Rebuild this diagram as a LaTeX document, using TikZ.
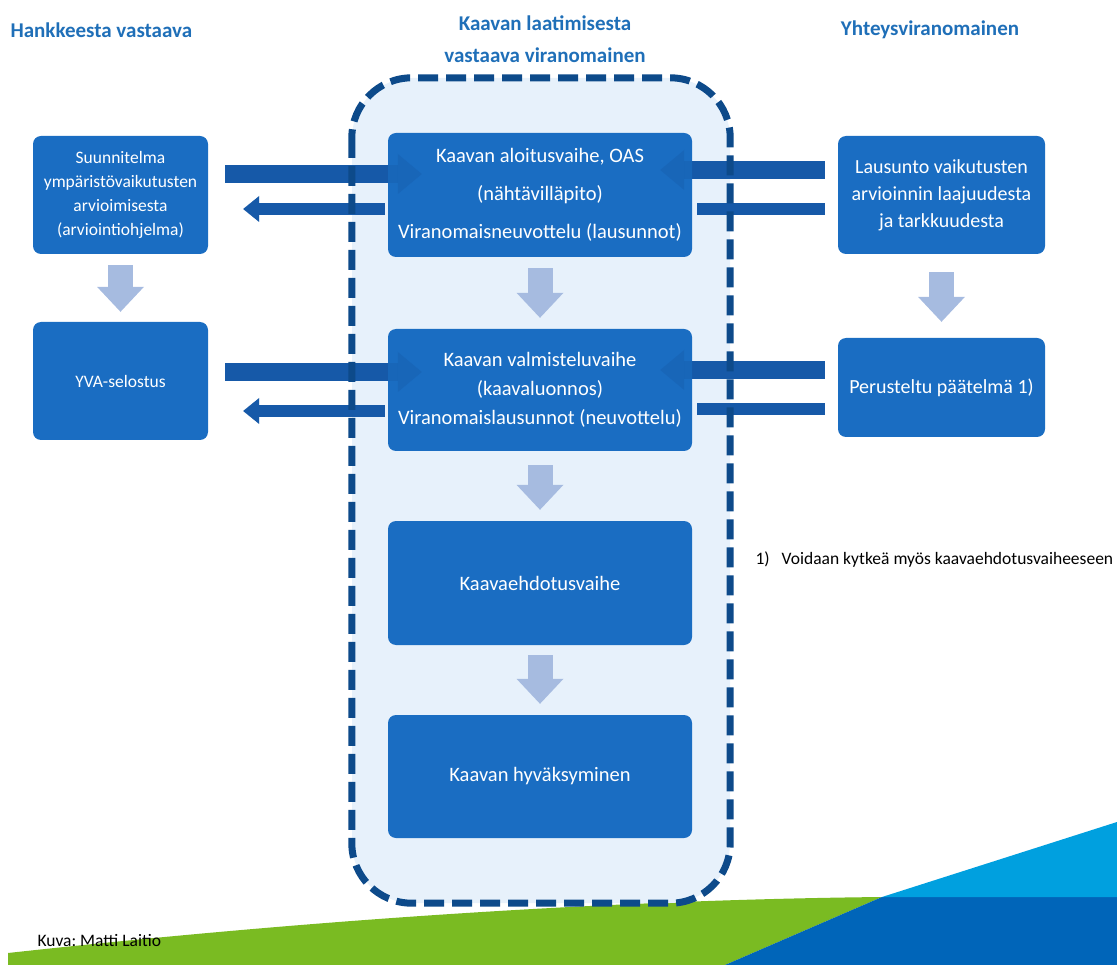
\documentclass[tikz,border=0pt]{standalone}
\usepackage{fontspec}
\setmainfont{Carlito}
\usetikzlibrary{arrows.meta}
\definecolor{boxblue}{HTML}{1A6DC2}
\definecolor{headblue}{HTML}{1F6FB8}
\definecolor{navy}{HTML}{0D4A8A}
\definecolor{zonefill}{HTML}{E7F1FB}
\definecolor{stepgrey}{HTML}{A6BBE0}
\definecolor{linkblue}{HTML}{1659A8}
\definecolor{grass}{HTML}{7ABB22}
\definecolor{sea}{HTML}{0065B9}
\definecolor{sky}{HTML}{00A0DF}
\pgfdeclarelayer{back}
\pgfdeclarelayer{links}
\pgfdeclarelayer{front}
\pgfsetlayers{back,links,main,front}
\frenchspacing
% nuolet vaiheiden valilla
\newcommand{\linkpaths}{
	\draw[fwdlink] ([shift={(17,-21)}]lb1.east) -- ([shift={(34,-21)}]cb1.west);
	\draw[backlink] ([shift={(-3,14)}]cb1.west) -- ([shift={(35,14)}]lb1.east);
	\draw[fwdlink] ([shift={(17,-9)}]lb2.east) -- ([shift={(34,-18)}]cb2.west);
	\draw[backlink] ([shift={(-3,21)}]cb2.west) -- ([shift={(35,30)}]lb2.east);
	\draw[fwdlink] ([shift={(-13,-25)}]rb1.west) -- ([shift={(-32,-25)}]cb1.east);
	\draw[plainlink] ([shift={(5,14)}]cb1.east) -- ([shift={(-13,14)}]rb1.west);
	\draw[fwdlink] ([shift={(-13,-17.5)}]rb2.west) -- ([shift={(-32,-20)}]cb2.east);
	\draw[plainlink] ([shift={(5,19)}]cb2.east) -- ([shift={(-13,21.5)}]rb2.west);
}
\begin{document}
\begin{tikzpicture}
		[x=1pt,y=-1pt,
		phase/.style={fill=boxblue, rounded corners=8pt, text=white,
			align=center, inner sep=0pt},
		heading/.style={text=headblue, align=center,
			font=\bfseries\fontsize{21}{32}\selectfont},
		fwdlink/.style={line width=18pt, draw=linkblue,
			-{Triangle[width=40pt,length=24pt,line width=0pt]}},
		backlink/.style={line width=12pt, draw=linkblue,
			-{Triangle[width=26pt,length=16pt,line width=0pt]}},
		plainlink/.style={line width=12pt, draw=linkblue},
		droparrow/.style={line width=25pt, draw=stepgrey,
			-{Triangle[width=47pt,length=25pt,line width=0pt]}}
	]
		\useasboundingbox (0,0) rectangle (1117,965);

		% otsikot
		\node[heading, anchor=west] (hhank) at (7,30) {Hankkeesta vastaava};
		\node[heading] (hkaava) at (545,39) {Kaavan laatimisesta\\vastaava viranomainen};
		\node[heading] (hyht) at (930,30) {Yhteysviranomainen};

		% hankkeesta vastaava
		\node[phase, minimum width=175pt, minimum height=118pt,
			font=\fontsize{17.5}{24}\selectfont] (lb1) at (120.5,195)
			{Suunnitelma\\ympäristövaikutusten\\arvioimisesta\\(arviointiohjelma)};
		\node[phase, minimum width=175pt, minimum height=118pt,
			font=\fontsize{17.5}{24}\selectfont] (lb2) at (120.5,381) {YVA-selostus};

		% kaavoitus
		\node[phase, minimum width=304pt, minimum height=124pt,
			font=\fontsize{20.5}{38}\selectfont] (cb1) at (540,195)
			{Kaavan aloitusvaihe, OAS\\(nähtävilläpito)\\Viranomaisneuvottelu (lausunnot)};
		\node[phase, minimum width=304pt, minimum height=122pt,
			font=\fontsize{20.5}{29}\selectfont] (cb2) at (540,390)
			{Kaavan valmisteluvaihe\\(kaavaluonnos)\\Viranomaislausunnot (neuvottelu)};
		\node[phase, minimum width=304pt, minimum height=124pt,
			font=\fontsize{20.5}{29}\selectfont] (cb3) at (540,583) {Kaavaehdotusvaihe};
		\node[phase, minimum width=304pt, minimum height=123pt,
			font=\fontsize{20.5}{29}\selectfont] (cb4) at (540,776.5) {Kaavan hyväksyminen};

		% yhteysviranomainen
		\node[phase, minimum width=207pt, minimum height=118pt,
			font=\fontsize{20}{27}\selectfont] (rb1) at (941.5,195)
			{Lausunto vaikutusten\\arvioinnin laajuudesta\\ja tarkkuudesta};
		\node[phase, minimum width=207pt, minimum height=99pt,
			font=\fontsize{20}{27}\selectfont] (rb2) at (941.5,387.5) {Perusteltu päätelmä 1)};

		% alue ja pohja
		\begin{pgfonlayer}{back}
			\fill[grass] (8,953) .. controls (300,921) and (600,900) .. (882,897)
				-- (725,965) -- (8,965) -- cycle;
			\fill[sea] (725,965) -- (882,897) -- (1117,897) -- (1117,965) -- cycle;
			\fill[sky] (882,897) -- (1117,822) -- (1117,897) -- cycle;
			\node[fill=zonefill, rounded corners=60pt, minimum width=378pt,
				minimum height=825pt, inner sep=0pt] (zone) at (541,490.5) {};
		\end{pgfonlayer}

		% nuolet: taysi vari alla, laatikon paalla lapikuultava
		\begin{pgfonlayer}{links}
			\linkpaths
		\end{pgfonlayer}
		\begin{pgfonlayer}{front}
			\begin{scope}[opacity=0.35]
				\linkpaths
			\end{scope}
			\draw[navy, line width=7pt, dash pattern=on 20pt off 8pt, rounded corners=60pt]
				(zone.north west) rectangle (zone.south east);
		\end{pgfonlayer}

		\draw[droparrow, shorten <=11pt, shorten >=10pt] (lb1.south) -- (lb2.north);
		\draw[droparrow, shorten <=11pt, shorten >=11pt] (cb1.south) -- (cb2.north);
		\draw[droparrow, shorten <=14pt, shorten >=11pt] (cb2.south) -- (cb3.north);
		\draw[droparrow, shorten <=10pt, shorten >=11pt] (cb3.south) -- (cb4.north);
		\draw[droparrow, shorten <=18pt, shorten >=16pt] (rb1.south) -- (rb2.north);

		% huomautukset
		\node[anchor=west, font=\fontsize{17.5}{20}\selectfont] (note) at (752,560)
			{1)\hspace{12pt}Voidaan kytkeä myös kaavaehdotusvaiheeseen};
		\node[anchor=west, font=\fontsize{17.5}{20}\selectfont] (kuva) at (34,941) {Kuva: Matti Laitio};
	\end{tikzpicture}
\end{document}
